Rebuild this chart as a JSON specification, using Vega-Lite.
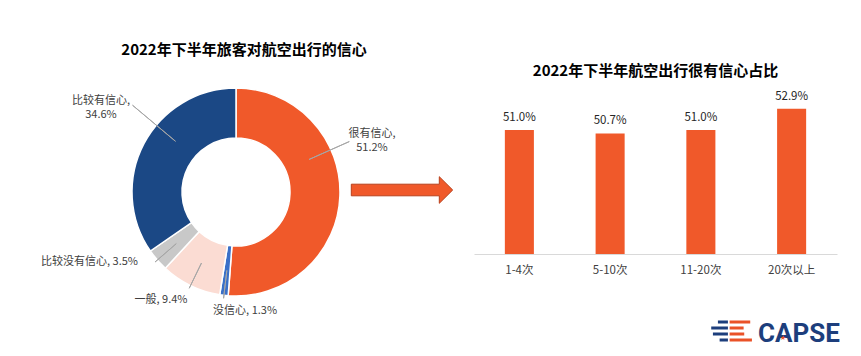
{
  "$schema": "https://vega.github.io/schema/vega-lite/v6.json",
  "background": "white",
  "padding": {"left": 41, "top": 43, "right": 0, "bottom": 0},
  "spacing": 0,
  "bounds": "flush",
  "config": {
    "view": {"stroke": null},
    "font": "Noto Sans CJK SC",
    "title": {"color": "#000000", "font": "Noto Sans CJK SC"}
  },
  "datasets": {
    "confidence": [
      {"label": "很有信心", "value": 51.2, "order": 1, "disp": "很有信心,\n51.2%"},
      {"label": "没信心", "value": 1.3, "order": 2, "disp": "没信心, 1.3%"},
      {"label": "一般", "value": 9.4, "order": 3, "disp": "一般, 9.4%"},
      {"label": "比较没有信心", "value": 3.5, "order": 4, "disp": "比较没有信心, 3.5%"},
      {"label": "比较有信心", "value": 34.6, "order": 5, "disp": "比较有信心,\n34.6%"}
    ],
    "frequency": [
      {"group": "1-4次", "share": 0.510},
      {"group": "5-10次", "share": 0.507},
      {"group": "11-20次", "share": 0.510},
      {"group": "20次以上", "share": 0.529}
    ]
  },
  "hconcat": [
    {
      "width": 188,
      "height": 214,
      "title": {"text": "2022年下半年旅客对航空出行的信心", "fontSize": 15, "fontWeight": "bold", "frame": "group", "offset": 27, "dx": 8},
      "data": {"name": "confidence"},
      "transform": [
        {"stack": "value", "groupby": [], "sort": [{"field": "order", "order": "ascending"}], "as": ["v0", "v1"]}
      ],
      "resolve": {"scale": {"theta": "independent"}},
      "layer": [
        {
          "mark": {"type": "arc", "radius": 104, "radius2": 54, "stroke": "#ffffff", "strokeWidth": 1.5},
          "encoding": {
            "theta": {"field": "value", "type": "quantitative", "stack": true, "scale": {"domain": [0, 100]}},
            "order": {"field": "order", "type": "quantitative"},
            "color": {
              "field": "label", "type": "nominal", "legend": null,
              "scale": {
                "domain": ["很有信心", "没信心", "一般", "比较没有信心", "比较有信心"],
                "range": ["#F0592A", "#3A70C8", "#FBDCD3", "#C8C8C8", "#1B4885"]
              }
            }
          }
        },
        {
          "mark": {"type": "arc", "radius": 107, "radius2": 79, "padAngle": 3.1416, "fill": "transparent", "stroke": "#A6A6A6", "strokeWidth": 1},
          "encoding": {
            "theta": {"field": "value", "type": "quantitative", "stack": true, "scale": {"domain": [0, 100]}},
            "order": {"field": "order", "type": "quantitative"},
            "strokeOpacity": {"condition": {"test": "indexof(['没信心','一般','比较没有信心'], datum.label) >= 0", "value": 1}, "value": 0}
          }
        },
        {
          "transform": [{"filter": "datum.label === '很有信心'"}],
          "mark": {"type": "arc", "radius": 124, "radius2": 80, "padAngle": 3.1416, "fill": "transparent", "stroke": "#A6A6A6", "strokeWidth": 1},
          "encoding": {
            "theta": {"field": "v0", "type": "quantitative", "stack": null, "scale": {"domain": [0, 100], "range": [0, 4.5]}},
            "theta2": {"field": "v1"}
          }
        },
        {
          "transform": [{"filter": "datum.label === '比较有信心'"}],
          "mark": {"type": "arc", "radius": 135, "radius2": 79, "padAngle": 3.1416, "fill": "transparent", "stroke": "#A6A6A6", "strokeWidth": 1},
          "encoding": {
            "theta": {"field": "v0", "type": "quantitative", "stack": null, "scale": {"domain": [0, 100], "range": [0, 6.542]}},
            "theta2": {"field": "v1"}
          }
        },
        {
          "transform": [{"filter": "datum.label === '很有信心'"}],
          "mark": {"type": "text", "radius": 53.5, "dx": 136, "dy": -5, "align": "center", "baseline": "middle", "fontSize": 11, "lineHeight": 14, "lineBreak": "\n", "color": "#404040"},
          "encoding": {
            "theta": {"field": "v0", "type": "quantitative", "stack": null, "scale": {"domain": [0, 100]}},
            "text": {"field": "disp", "type": "nominal"}
          }
        },
        {
          "transform": [{"filter": "datum.label === '比较有信心'"}],
          "mark": {"type": "text", "radius": 86, "dx": -135, "dy": -5, "align": "center", "baseline": "middle", "fontSize": 11, "lineHeight": 14, "lineBreak": "\n", "color": "#404040"},
          "encoding": {
            "theta": {"field": "v1", "type": "quantitative", "stack": null, "scale": {"domain": [0, 100]}},
            "text": {"field": "disp", "type": "nominal"}
          }
        },
        {
          "transform": [{"filter": "datum.label === '比较没有信心'"}],
          "mark": {"type": "text", "radius": 122, "dx": 2.4, "dy": 1, "align": "right", "baseline": "middle", "fontSize": 11, "color": "#404040"},
          "encoding": {
            "theta": {"field": "v1", "type": "quantitative", "stack": null, "scale": {"domain": [0, 100]}},
            "text": {"field": "disp", "type": "nominal"}
          }
        },
        {
          "transform": [{"filter": "datum.label === '一般'"}],
          "mark": {"type": "text", "radius": 107, "dx": -31.8, "dy": 2, "align": "right", "baseline": "middle", "fontSize": 11, "color": "#404040"},
          "encoding": {
            "theta": {"field": "v0", "type": "quantitative", "stack": null, "scale": {"domain": [0, 100]}},
            "text": {"field": "disp", "type": "nominal"}
          }
        },
        {
          "transform": [{"filter": "datum.label === '没信心'"}],
          "mark": {"type": "text", "radius": 118, "dx": -14, "dy": 1, "align": "left", "baseline": "middle", "fontSize": 11, "color": "#404040"},
          "encoding": {
            "theta": {"field": "v0", "type": "quantitative", "stack": null, "scale": {"domain": [0, 100]}},
            "text": {"field": "disp", "type": "nominal"}
          }
        }
      ]
    },
    {
      "width": 144,
      "height": 210,
      "data": {"values": [{"symbol": "arrow"}]},
      "mark": {
        "type": "point",
        "shape": "M-50.7,-5.8H37.3V-13.3L50.7,0L37.3,13.3V5.8H-50.7Z",
        "size": 4,
        "filled": true,
        "color": "#F0592A",
        "stroke": "#B8401C",
        "strokeWidth": 1,
        "opacity": 1
      },
      "encoding": {}
    },
    {
      "width": 363,
      "height": 169,
      "title": {"text": "2022年下半年航空出行很有信心占比", "fontSize": 15, "fontWeight": "bold", "frame": "group", "offset": 6},
      "layer": [
        {
          "data": {"name": "frequency"},
          "mark": {"type": "bar", "color": "#F0592A"},
          "encoding": {
            "x": {
              "field": "group", "type": "ordinal",
              "scale": {"domain": ["1-4次", "5-10次", "11-20次", "20次以上"], "paddingInner": 0.68, "paddingOuter": 0.34},
              "axis": {"title": null, "ticks": false, "grid": false, "domainColor": "#D9D9D9", "domainWidth": 1, "labelFontSize": 11.5, "labelColor": "#404040", "labelPadding": 10, "labelAngle": 0}
            },
            "y": {"field": "share", "type": "quantitative", "scale": {"domain": [0.40, 0.55], "zero": false, "nice": false}, "axis": null},
            "y2": {"datum": 0.40}
          }
        },
        {
          "data": {"name": "frequency"},
          "mark": {"type": "text", "baseline": "alphabetic", "dy": -9, "fontSize": 11.5, "color": "#262626"},
          "encoding": {
            "x": {"field": "group", "type": "ordinal"},
            "y": {"field": "share", "type": "quantitative"},
            "text": {"field": "share", "type": "quantitative", "format": ".1%"}
          }
        },
        {
          "data": {"values": [{"part": "navy"}]},
          "mark": {"type": "point", "shape": "M-13.5,-10.5H-3.5V-7.5H-13.5Z M-20.2,-4.5H-3.5V-1.5H-20.2Z M-18.5,1.5H-3.5V4.5H-18.5Z M-11.8,7.5H-3.5V10.5H-11.8Z", "size": 4, "filled": true, "color": "#1D3E7C", "opacity": 1, "xOffset": -60.2, "yOffset": 77},
          "encoding": {
            "x": {"datum": "20次以上", "type": "ordinal"},
            "y": {"datum": 0.40, "type": "quantitative"}
          }
        },
        {
          "data": {"values": [{"part": "red"}]},
          "mark": {"type": "point", "shape": "M-1.8,-10.5H18.8V-7.5H-1.8Z M-1.8,-4.5H12.2V-1.5H-1.8Z M-1.8,1.5H12.8V4.5H-1.8Z M-1.8,7.5H20.5V10.5H-1.8Z", "size": 4, "filled": true, "color": "#EA5228", "opacity": 1, "xOffset": -60.2, "yOffset": 77},
          "encoding": {
            "x": {"datum": "20次以上", "type": "ordinal"},
            "y": {"datum": 0.40, "type": "quantitative"}
          }
        },
        {
          "data": {"values": [{"brand": "CAPSE"}]},
          "mark": {"type": "text", "align": "right", "baseline": "alphabetic", "dx": 48.3, "dy": 87.5, "font": "Roboto", "fontWeight": "bold", "fontSize": 26, "color": "#1D3E7C"},
          "encoding": {
            "x": {"datum": "20次以上", "type": "ordinal"},
            "y": {"datum": 0.40, "type": "quantitative"},
            "text": {"field": "brand", "type": "nominal"}
          }
        },
        {
          "data": {"values": [{"brand": "star"}]},
          "mark": {"type": "text", "text": "★", "align": "center", "baseline": "middle", "dx": -8.7, "dy": 84, "font": "DejaVu Sans", "fontSize": 7, "color": "#EA5228"},
          "encoding": {
            "x": {"datum": "20次以上", "type": "ordinal"},
            "y": {"datum": 0.40, "type": "quantitative"}
          }
        }
      ]
    }
  ]
}
